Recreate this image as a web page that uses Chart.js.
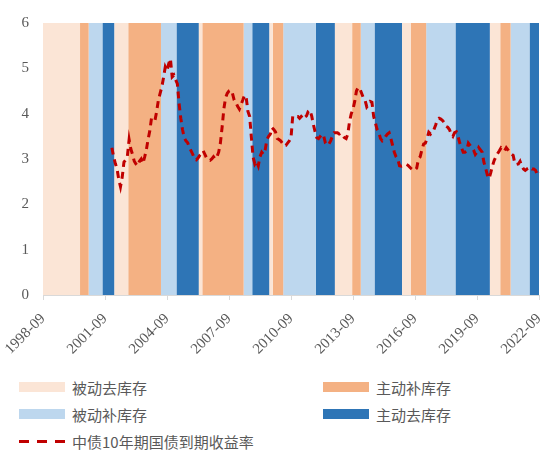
<!DOCTYPE html>
<html>
<head>
<meta charset="utf-8">
<script src="https://cdn.jsdelivr.net/npm/chart.js@4.4.0/dist/chart.umd.min.js"></script>
<style>
    body { margin: 0; background: #fff; }
    #wrap { position: relative; width: 542px; height: 450px; }
    #chart { position: absolute; left: 0; top: 0; }
    .legend-item {
        position: absolute;
        height: 20px;
        display: flex;
        align-items: center;
        font-family: "Noto Sans CJK SC", sans-serif;
        font-size: 15px;
        color: #595959;
        white-space: nowrap;
    }
    .swatch { width: 46px; height: 10px; margin-right: 7px; }
    .dash {
        width: 46px; height: 3px; margin-right: 7px;
        background: repeating-linear-gradient(90deg, #C00000 0 10px, transparent 10px 18px);
    }
</style>
</head>
<body>
<div id="wrap">
    <canvas id="chart" width="542" height="370"></canvas>
    <div id="legend"></div>
</div>
<script>
// 月度横轴范围
const startMonth = '1998-09';
const endMonth = '2022-09';
const tickEvery = 36;

// 库存周期阶段
const phaseNames = ['被动去库存', '主动补库存', '被动补库存', '主动去库存'];
const phaseColors = ['#FBE5D6', '#F4B183', '#BDD7EE', '#2E75B6'];

// 每段阶段的起始月份及对应阶段
const phaseStarts = [
    '1998-09', '2000-07', '2000-12', '2001-08',
    '2002-03', '2002-11', '2004-06', '2005-03',
    '2006-04', '2006-06', '2008-06', '2008-11',
    '2009-09', '2009-11', '2010-05', '2011-12',
    '2012-11', '2013-09', '2014-02', '2014-10',
    '2016-02', '2016-07', '2017-04', '2018-09',
    '2020-05', '2020-11', '2021-05', '2022-04'
];
const phaseOfSegment = [
    0, 1, 2, 3,
    0, 1, 2, 3,
    0, 1, 2, 3,
    0, 1, 2, 3,
    0, 1, 2, 3,
    0, 1, 2, 3,
    0, 1, 2, 3
];

// 中债10年期国债到期收益率(%)，月度，自2002-01起
const yieldName = '中债10年期国债到期收益率';
const yieldStart = '2002-01';
const bondYield = [
    3.25, 3.05, 2.90, 2.78, 2.55, 2.39, 2.60, 2.93, 2.98, 3.07, 3.43, 3.22, // 2002
    3.10, 2.95, 2.89, 2.85, 2.95, 3.00, 2.90, 3.04, 3.20, 3.43, 3.62, 3.90, // 2003
    3.87, 3.85, 4.05, 4.30, 4.45, 4.59, 4.80, 5.03, 4.95, 5.10, 5.21, 4.81, // 2004
    4.85, 4.75, 4.66, 4.23, 3.90, 3.65, 3.47, 3.40, 3.36, 3.25, 3.18, 3.10, // 2005
    3.00, 2.98, 3.02, 3.08, 3.12, 3.18, 3.10, 3.02, 2.98, 2.97, 3.00, 3.05, // 2006
    3.00, 3.05, 3.15, 3.35, 3.70, 4.10, 4.35, 4.45, 4.50, 4.52, 4.45, 4.30, // 2007
    4.25, 4.16, 4.10, 4.20, 4.30, 4.41, 4.35, 4.05, 3.94, 3.47, 3.04, 2.89, // 2008
    2.95, 2.85, 3.05, 3.15, 3.10, 3.20, 3.43, 3.50, 3.55, 3.69, 3.65, 3.60, // 2009
    3.45, 3.43, 3.40, 3.35, 3.29, 3.30, 3.35, 3.40, 3.47, 3.94, 3.92, 3.94, // 2010
    3.94, 3.90, 3.94, 3.98, 3.92, 3.95, 4.05, 4.08, 3.95, 3.76, 3.60, 3.47, // 2011
    3.45, 3.50, 3.55, 3.50, 3.35, 3.30, 3.33, 3.40, 3.50, 3.58, 3.58, 3.58, // 2012
    3.55, 3.57, 3.52, 3.47, 3.45, 3.55, 3.83, 4.00, 4.10, 4.27, 4.50, 4.58, // 2013
    4.55, 4.45, 4.35, 4.30, 4.15, 4.20, 4.27, 4.25, 3.94, 3.80, 3.65, 3.58, // 2014
    3.45, 3.40, 3.43, 3.50, 3.55, 3.58, 3.45, 3.30, 3.15, 3.05, 3.00, 2.85, // 2015
    2.84, 2.85, 2.86, 2.88, 2.86, 2.82, 2.78, 2.75, 2.76, 2.80, 3.00, 3.05, // 2016
    3.20, 3.33, 3.35, 3.45, 3.59, 3.55, 3.60, 3.65, 3.75, 3.87, 3.90, 3.88, // 2017
    3.85, 3.80, 3.72, 3.70, 3.65, 3.55, 3.50, 3.58, 3.60, 3.50, 3.35, 3.25, // 2018
    3.15, 3.15, 3.18, 3.35, 3.30, 3.25, 3.20, 3.10, 3.15, 3.25, 3.20, 3.15, // 2019
    2.93, 2.80, 2.65, 2.57, 2.70, 2.85, 2.97, 3.05, 3.12, 3.18, 3.25, 3.22, // 2020
    3.18, 3.25, 3.20, 3.15, 3.11, 3.08, 2.90, 2.88, 2.89, 2.95, 2.85, 2.78, // 2021
    2.75, 2.78, 2.80, 2.82, 2.78, 2.78, 2.75, 2.65, 2.71                    // 2022
];

// Y轴
const yMin = 0;
const yMax = 6;
const yStep = 1;

function monthIndex(label) {
    const [y, m] = label.split('-').map(Number);
    return y * 12 + (m - 1);
}
function monthLabel(idx) {
    const y = Math.floor(idx / 12);
    const m = idx % 12 + 1;
    return y + '-' + (m < 10 ? '0' + m : m);
}

// 生成月度类目
const base = monthIndex(startMonth);
const labels = [];
for (let i = base; i <= monthIndex(endMonth); i++) labels.push(monthLabel(i));

// 每月所属阶段
const monthPhase = labels.map(lab => {
    const idx = monthIndex(lab);
    let seg = 0;
    phaseStarts.forEach((s, k) => { if (monthIndex(s) <= idx) seg = k; });
    return phaseOfSegment[seg];
});

// 阶段背景：阶梯填充
const phaseDatasets = phaseNames.map((name, p) => ({
    label: name,
    data: monthPhase.map(ph => ph === p ? yMax : 0),
    backgroundColor: phaseColors[p],
    borderWidth: 0,
    pointRadius: 0,
    stepped: 'middle',
    fill: 'origin',
    order: 1
}));

const yieldOffset = monthIndex(yieldStart) - base;
const yieldData = labels.map((_, i) => {
    const k = i - yieldOffset;
    return k >= 0 && k < bondYield.length ? bondYield[k] : null;
});

const tickColor = '#595959';
const serif = 'Liberation Serif, serif';

new Chart(document.getElementById('chart'), {
    type: 'line',
    data: {
        labels: labels,
        datasets: [
            {
                label: yieldName,
                data: yieldData,
                borderColor: '#C00000',
                borderWidth: 3,
                borderDash: [7, 5],
                pointRadius: 0,
                tension: 0,
                fill: false,
                order: 0
            },
            ...phaseDatasets
        ]
    },
    options: {
        responsive: false,
        animation: false,
        layout: { padding: { top: 19, right: 3, left: 0, bottom: 0 } },
        plugins: {
            legend: { display: false },
            tooltip: { enabled: false }
        },
        scales: {
            x: {
                offset: false,
                grid: {
                    display: true,
                    drawOnChartArea: false,
                    drawTicks: true,
                    tickLength: 5,
                    color: '#D9D9D9'
                },
                border: { display: true, color: '#D9D9D9', width: 1 },
                ticks: {
                    autoSkip: false,
                    minRotation: 45,
                    maxRotation: 45,
                    padding: 10,
                    color: tickColor,
                    font: { family: serif, size: 15 },
                    callback: function (val, i) {
                        return i % tickEvery === 0 ? labels[i] : null;
                    }
                },
                afterFit: function (scale) {
                    scale.height = 75;
                    scale.paddingLeft = 0;
                    scale.paddingRight = 0;
                }
            },
            y: {
                min: yMin,
                max: yMax,
                grid: { display: false, drawTicks: false },
                border: { display: false },
                ticks: {
                    stepSize: yStep,
                    padding: 14,
                    color: tickColor,
                    font: { family: serif, size: 15 }
                },
                afterFit: function (scale) {
                    scale.width = 43;
                }
            }
        }
    }
});

// 图例
const legendRows = [
    { text: phaseNames[0], color: phaseColors[0], left: 19, mid: 387 },
    { text: phaseNames[1], color: phaseColors[1], left: 323, mid: 387 },
    { text: phaseNames[2], color: phaseColors[2], left: 19, mid: 414 },
    { text: phaseNames[3], color: phaseColors[3], left: 323, mid: 414 },
    { text: yieldName, dash: true, left: 19, mid: 441 }
];
const legend = document.getElementById('legend');
legendRows.forEach(r => {
    const item = document.createElement('div');
    item.className = 'legend-item';
    item.style.left = r.left + 'px';
    item.style.top = (r.mid - 10) + 'px';
    const mark = document.createElement('span');
    if (r.dash) {
        mark.className = 'dash';
    } else {
        mark.className = 'swatch';
        mark.style.background = r.color;
    }
    const txt = document.createElement('span');
    txt.textContent = r.text;
    item.appendChild(mark);
    item.appendChild(txt);
    legend.appendChild(item);
});
</script>
</body>
</html>
